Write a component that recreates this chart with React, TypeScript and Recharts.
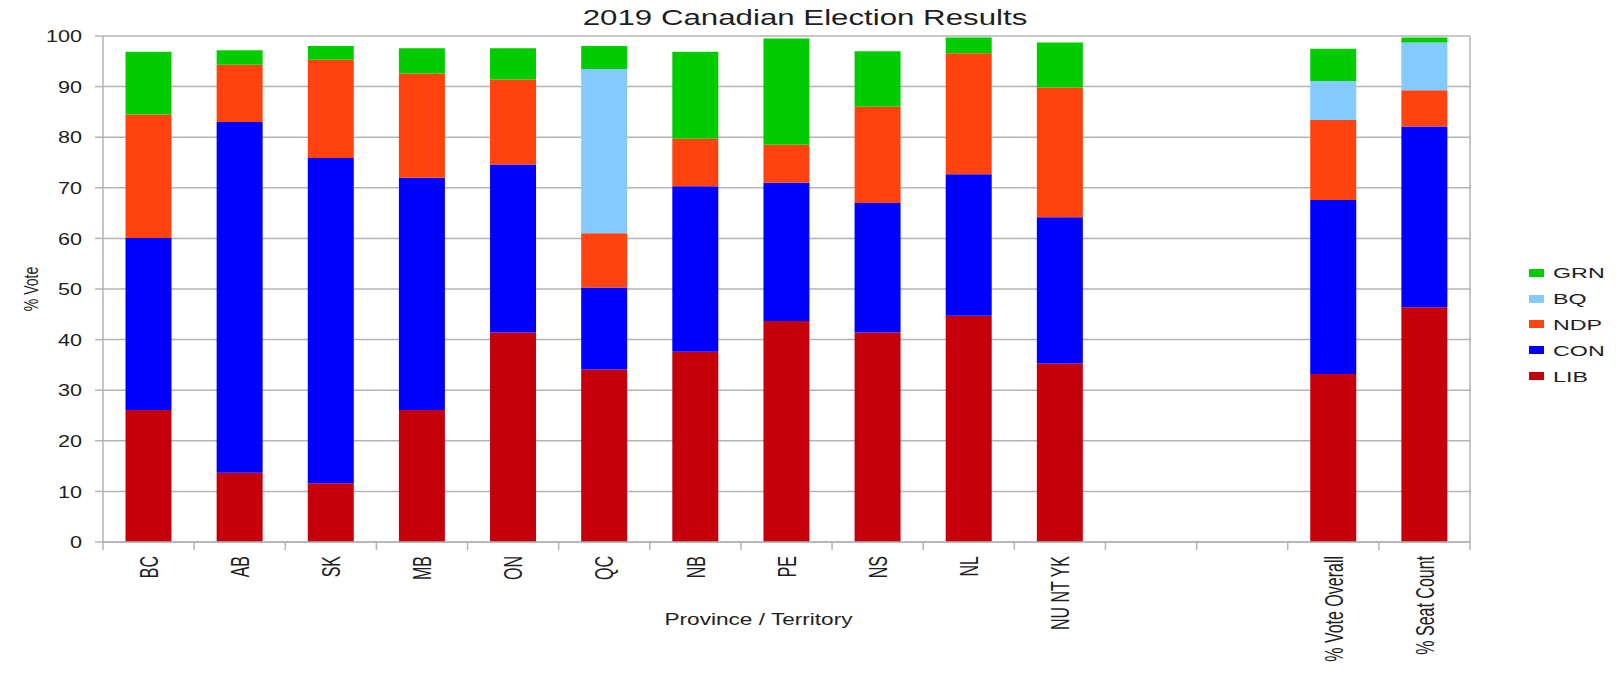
import { BarChart, Bar, XAxis, YAxis, CartesianGrid, Legend } from "recharts";

const categories = ["BC", "AB", "SK", "MB", "ON", "QC", "NB", "PE", "NS", "NL", "NU NT YK", "", " ", "% Vote Overall", "% Seat Count"];

const lib = [26.1, 13.7, 11.6, 26.1, 41.4, 34.1, 37.6, 43.7, 41.4, 44.7, 35.3, null, null, 33.2, 46.4];
const con = [34.0, 69.3, 64.3, 45.9, 33.2, 16.2, 32.7, 27.3, 25.6, 28.0, 28.9, null, null, 34.4, 35.7];
const ndp = [24.4, 11.3, 19.4, 20.6, 16.8, 10.7, 9.4, 7.5, 19.0, 23.9, 25.6, null, null, 15.8, 7.2];
const bq = [null, null, null, null, null, 32.5, null, null, null, null, null, null, null, 7.7, 9.4];
const grn = [12.4, 2.9, 2.7, 5.0, 6.2, 4.5, 17.2, 21.0, 11.0, 3.1, 8.9, null, null, 6.4, 1.0];

const yTicks = [0, 10, 20, 30, 40, 50, 60, 70, 80, 90, 100];

const parties = [
  { key: "LIB", values: lib },
  { key: "CON", values: con },
  { key: "NDP", values: ndp },
  { key: "BQ", values: bq },
  { key: "GRN", values: grn },
];

const colors: Record<string, string> = {
  LIB: "#c5000b",
  CON: "#0000ff",
  NDP: "#ff420e",
  BQ: "#83caff",
  GRN: "#00cc00",
};

const data = categories.map((name, i) => {
  const row: Record<string, string | number | null> = { name };
  parties.forEach((p) => (row[p.key] = p.values[i]));
  return row;
});

const FONT = '"Liberation Sans", Arial, sans-serif';
const INK = "#1e1e1e";
const GRID = "#b3b3b3";

function YTick({ x, y, payload }: any) {
  return (
    <text transform={`translate(${x},${y}) scale(1.27,1)`} textAnchor="end" dy="0.36em" fontSize={17} fill={INK} fontFamily={FONT}>
      {payload.value}
    </text>
  );
}

function XTick({ x, y, payload, index }: any) {
  const half = payload.offset || 0;
  const last = index === categories.length - 1;
  return (
    <g>
      <line x1={x - half} x2={x - half} y1={y - 14} y2={y - 6} stroke={GRID} strokeWidth={1.5} />
      {last && <line x1={x + half} x2={x + half} y1={y - 14} y2={y - 6} stroke={GRID} strokeWidth={1.5} />}
      <g transform={`translate(${x},${y}) scale(1.6,1)`}>
        <text transform="rotate(-90)" textAnchor="end" dy="0.36em" fontSize={16} fill={INK} fontFamily={FONT}>
          {payload.value}
        </text>
      </g>
    </g>
  );
}

function XLabel({ viewBox }: any) {
  const cx = viewBox.x + viewBox.width / 2 - 28;
  return (
    <text transform={`translate(${cx},${viewBox.y + 83}) scale(1.33,1)`} textAnchor="middle" fontSize={17} fill={INK} fontFamily={FONT}>
      Province / Territory
    </text>
  );
}

function YLabel({ viewBox }: any) {
  const cy = viewBox.y + viewBox.height / 2;
  return (
    <text transform={`translate(${viewBox.x - 9},${cy}) scale(1.4,1) rotate(-90)`} textAnchor="middle" dy="0.36em" fontSize={14} fill={INK} fontFamily={FONT}>
      % Vote
    </text>
  );
}

function LegendBox() {
  return (
    <div style={{ fontFamily: FONT }}>
      {[...parties].reverse().map((p) => (
        <div key={p.key} style={{ display: "flex", alignItems: "center", height: 25.8 }}>
          <span style={{ display: "inline-block", width: 15, height: 8, background: colors[p.key] }} />
          <span style={{ marginLeft: 9, fontSize: 15, color: INK, transform: "scaleX(1.55)", transformOrigin: "left center", whiteSpace: "nowrap" }}>
            {p.key}
          </span>
        </div>
      ))}
    </div>
  );
}

export default function App() {
  return (
    <div style={{ position: "absolute", left: 0, top: 0, width: 1622, height: 673, background: "#fff", fontFamily: FONT }}>
      <div
        style={{
          position: "absolute",
          left: 805,
          top: 7,
          fontSize: 22,
          lineHeight: "22px",
          color: INK,
          whiteSpace: "nowrap",
          transform: "translateX(-50%) scaleX(1.42)",
        }}
      >
        2019 Canadian Election Results
      </div>
      <BarChart width={1622} height={673} data={data} margin={{ top: 36, right: 152, left: 40, bottom: 0 }} barCategoryGap="24.7%">
        <CartesianGrid
          stroke={GRID}
          strokeWidth={1.5}
          vertical={true}
          verticalCoordinatesGenerator={({ offset }: any) => [offset.left + offset.width]}
        />
        <XAxis
          dataKey="name"
          interval={0}
          height={131}
          tickSize={0}
          tickMargin={14}
          tickLine={false}
          axisLine={{ stroke: GRID, strokeWidth: 1.5 }}
          tick={<XTick />}
          label={XLabel}
        />
        <YAxis
          width={63}
          domain={[0, 100]}
          ticks={yTicks}
          interval={0}
          tickSize={8}
          tickMargin={13}
          tickLine={{ stroke: GRID, strokeWidth: 1.5 }}
          axisLine={{ stroke: GRID, strokeWidth: 1.5 }}
          tick={<YTick />}
          label={YLabel}
        />
        <Legend
          layout="horizontal"
          verticalAlign="middle"
          align="center"
          content={<LegendBox />}
          wrapperStyle={{ left: 1529, top: 260, width: 90 }}
        />
        {parties.map((p) => (
          <Bar key={p.key} dataKey={p.key} stackId="a" fill={colors[p.key]} isAnimationActive={false} />
        ))}
      </BarChart>
    </div>
  );
}
